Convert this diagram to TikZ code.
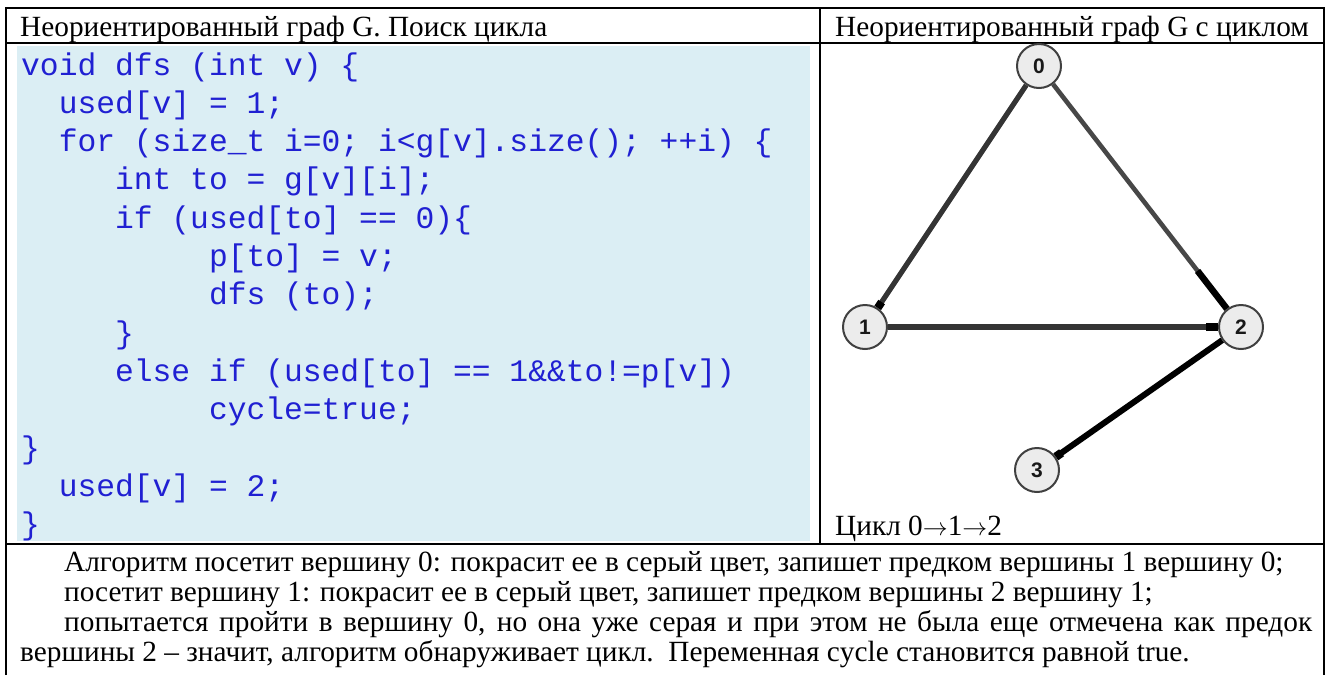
\documentclass[tikz,border=0pt]{standalone}
\usepackage{fontspec}
\setmainfont{Liberation Serif}
\newfontfamily\codefont{Liberation Mono}
\newfontfamily\labfont{Liberation Sans}
\usetikzlibrary{arrows.meta,calc}
\definecolor{codeblue}{RGB}{32,32,210}
\definecolor{codebg}{RGB}{219,238,244}
\definecolor{nodefill}{RGB}{236,236,236}
\definecolor{nodeline}{RGB}{64,64,64}
\definecolor{edgegray}{RGB}{52,52,52}
\begin{document}
\begin{tikzpicture}[x=1pt,y=-1pt,
  txt/.style={anchor=base west, inner sep=0pt, font=\fontsize{29.3}{34}\selectfont},
  code/.style={anchor=base west, inner sep=0pt, text=codeblue, font=\codefont\fontsize{31.3}{36}\selectfont},
  vtx/.style={circle, draw=nodeline, line width=2pt, fill=nodefill, minimum size=44pt, inner sep=0pt, font=\labfont\bfseries\fontsize{21}{21}\selectfont, text=black!90},
  edge/.style={draw=edgegray, line width=5.2pt},
  rule/.style={line width=1.8pt, black}]
\useasboundingbox (0,0) rectangle (1328,675);
% table
\fill[codebg] (17,46) rectangle (810,541);
\draw[rule] (6,675) -- (6,8) -- (1324,8) -- (1324,675);
\draw[rule] (6,43) -- (1324,43);
\draw[rule] (820,8) -- (820,544);
\draw[rule] (6,544) -- (1324,544);
% headers
\node[txt] (h1) at (20,36) {Неориентированный граф G. Поиск цикла};
\node[txt] (h2) at (835,36) {Неориентированный граф G с циклом};
% code
\def\cx{21}\def\cp{18.78}\def\cy{75}\def\cl{38.33}
\node[code] (c1)  at ({\cx+0*\cp},{\cy+0*\cl})  {void dfs (int v) \{};
\node[code] (c2)  at ({\cx+2*\cp},{\cy+1*\cl})  {used[v] = 1;};
\node[code] (c3)  at ({\cx+2*\cp},{\cy+2*\cl})  {for (size\_t i=0; i<g[v].size(); ++i) \{};
\node[code] (c4)  at ({\cx+5*\cp},{\cy+3*\cl})  {int to = g[v][i];};
\node[code] (c5)  at ({\cx+5*\cp},{\cy+4*\cl})  {if (used[to] == 0)\{};
\node[code] (c6)  at ({\cx+10*\cp},{\cy+5*\cl}) {p[to] = v;};
\node[code] (c7)  at ({\cx+10*\cp},{\cy+6*\cl}) {dfs (to);};
\node[code] (c8)  at ({\cx+5*\cp},{\cy+7*\cl})  {\}};
\node[code] (c9)  at ({\cx+5*\cp},{\cy+8*\cl})  {else if (used[to] == 1\&\&to!=p[v])};
\node[code] (c10) at ({\cx+10*\cp},{\cy+9*\cl}) {cycle=true;};
\node[code] (c11) at ({\cx+0*\cp},{\cy+10*\cl}) {\}};
\node[code] (c12) at ({\cx+2*\cp},{\cy+11*\cl}) {used[v] = 2;};
\node[code] (c13) at ({\cx+0*\cp},{\cy+12*\cl}) {\}};
% graph
\node[vtx] (n0) at (1039,66) {0};
\node[vtx] (n1) at (865,327) {1};
\node[vtx] (n2) at (1241,327) {2};
\node[vtx] (n3) at (1037,470) {3};
\draw[edge, -{Square[length=7pt,width=8pt,color=black]}] (n0) -- (n1);
\draw[edge, draw=black!72, line width=4.6pt, -{Square[length=48pt,width=6.5pt,color=black]}] (n0) -- (n2);
\draw[edge, -{Square[length=12pt,width=7.5pt,color=black]}] (n1) -- (n2);
\draw[edge, draw=black, line width=6pt, -{Square[length=7pt,width=8.5pt,color=black]}] (n2) -- (n3);
\node[txt] (cyc) at (835,535) {Цикл 0$\rightarrow$1$\rightarrow$2};
% bottom text
\node[txt] (b1) at (64,571) {Алгоритм посетит вершину 0: покрасит ее в серый цвет, запишет предком вершины 1 вершину 0;};
\node[txt] (b2) at (64,601) {посетит вершину 1: покрасит ее в серый цвет, запишет предком вершины 2 вершину 1;};
\node[txt] (b3) at (64,631) {\makebox[1248pt][s]{попытается пройти в вершину 0, но она уже серая и при этом не была еще отмечена как предок}};
\node[txt] (b4) at (20,661) {вершины 2 – значит, алгоритм обнаруживает цикл.\ \ Переменная cycle становится равной true.};
\end{tikzpicture}
\end{document}
